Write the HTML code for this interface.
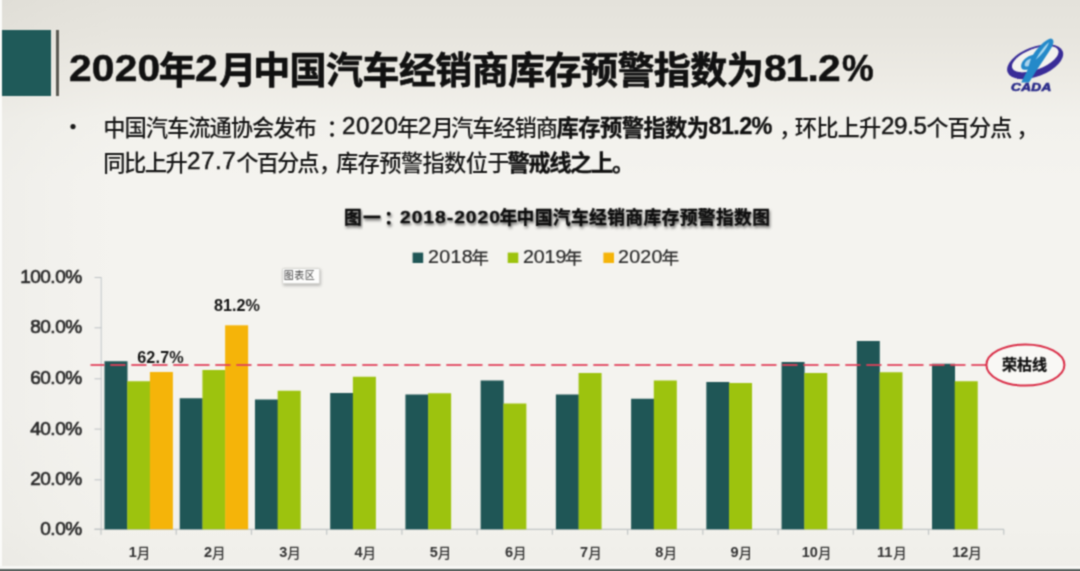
<!DOCTYPE html>
<html lang="zh-CN"><head><meta charset="utf-8"><title>2020年2月中国汽车经销商库存预警指数为81.2%</title>
<style>
html,body{margin:0;padding:0}
body{width:1080px;height:571px;overflow:hidden;position:relative;font-family:"Liberation Sans",sans-serif;background:#efede8}
#stage{position:absolute;left:0;top:0;width:1080px;height:571px;overflow:hidden;filter:url(#pgblur);
 background:
  linear-gradient(90deg, rgba(110,110,100,.035) 0%, rgba(110,110,100,.015) 5%, rgba(110,110,100,0) 11%),
  linear-gradient(180deg, #e4e2db 0%, #e7e5de 6%, #edebe5 14%, #f2f1ec 21%, #f4f3ef 32%, #f4f3ef 72%, #f2f1ec 92%, #efeee9 100%);
 background-color:#ebe9e3}
.t{position:absolute;white-space:nowrap;line-height:1;margin:0;padding:0}
svg{position:absolute;left:0;top:0;overflow:visible}
.abs{position:absolute}
svg text{font-family:"Liberation Sans","Noto Sans CJK SC",sans-serif}
</style></head>
<body>
<svg width="0" height="0" style="position:absolute" aria-hidden="true"><defs><filter id="pgblur" x="0" y="0" width="100%" height="100%" color-interpolation-filters="sRGB"><feConvolveMatrix order="3" kernelMatrix="0.0509 0.1238 0.0509 0.1238 0.3012 0.1238 0.0509 0.1238 0.0509" edgeMode="duplicate" preserveAlpha="true"/></filter></defs></svg>
<div id="stage">
<div class="abs" style="left:0;top:0;width:2px;height:571px;background:#fbfbf9"></div>
<div class="abs" style="left:2px;top:29.5px;width:49px;height:66.5px;background:#1f5a59"></div>
<div class="abs" style="left:56px;top:29.5px;width:3.4px;height:66px;background:#5b5a53"></div>
<div class="abs" style="left:0;top:566.3px;width:1080px;height:3px;background:#f7f7f4"></div>
<div class="abs" style="left:0;top:569.2px;width:1080px;height:3px;background:#5a625f"></div>
<div class="abs" style="left:281.7px;top:267.5px;width:38.6px;height:16px;box-sizing:border-box;background:#fdfdfc;border:1px solid #d6d6d2;border-radius:1.5px;box-shadow:1px 1.5px 3px rgba(0,0,0,.22)"></div>
<svg width="1080" height="571" viewBox="0 0 1080 571">
<path d="M101.2 277.5V529.3" stroke="#c6cbce" stroke-width="1.1" fill="none"/><path d="M94.5 529.20H101.5" stroke="#c2c6c8" stroke-width="1.1"/><path d="M94.5 479.80H101.5" stroke="#c2c6c8" stroke-width="1.1"/><path d="M94.5 429.10H101.5" stroke="#c2c6c8" stroke-width="1.1"/><path d="M94.5 378.80H101.5" stroke="#c2c6c8" stroke-width="1.1"/><path d="M94.5 327.80H101.5" stroke="#c2c6c8" stroke-width="1.1"/><path d="M94.5 277.50H101.5" stroke="#c2c6c8" stroke-width="1.1"/><path d="M94.5 529.3H1004" stroke="#c2c6c6" stroke-width="1.3" fill="none"/><path d="M101.00 529.3v5.5" stroke="#c2c6c6" stroke-width="1.2"/><path d="M176.23 529.3v5.5" stroke="#c2c6c6" stroke-width="1.2"/><path d="M251.46 529.3v5.5" stroke="#c2c6c6" stroke-width="1.2"/><path d="M326.69 529.3v5.5" stroke="#c2c6c6" stroke-width="1.2"/><path d="M401.92 529.3v5.5" stroke="#c2c6c6" stroke-width="1.2"/><path d="M477.15 529.3v5.5" stroke="#c2c6c6" stroke-width="1.2"/><path d="M552.38 529.3v5.5" stroke="#c2c6c6" stroke-width="1.2"/><path d="M627.61 529.3v5.5" stroke="#c2c6c6" stroke-width="1.2"/><path d="M702.84 529.3v5.5" stroke="#c2c6c6" stroke-width="1.2"/><path d="M778.07 529.3v5.5" stroke="#c2c6c6" stroke-width="1.2"/><path d="M853.30 529.3v5.5" stroke="#c2c6c6" stroke-width="1.2"/><path d="M928.53 529.3v5.5" stroke="#c2c6c6" stroke-width="1.2"/><path d="M1003.76 529.3v5.5" stroke="#c2c6c6" stroke-width="1.2"/><rect x="104.50" y="361.25" width="23.00" height="168.05" fill="#1f5656"/><rect x="127.20" y="381.25" width="23.00" height="148.05" fill="#9dc30e"/><rect x="149.90" y="372.00" width="23.00" height="157.30" fill="#f5b409"/><rect x="179.73" y="398.25" width="23.00" height="131.05" fill="#1f5656"/><rect x="202.43" y="370.00" width="23.00" height="159.30" fill="#9dc30e"/><rect x="225.13" y="325.30" width="23.00" height="204.00" fill="#f5b409"/><rect x="254.96" y="399.50" width="23.00" height="129.80" fill="#1f5656"/><rect x="277.66" y="390.75" width="23.00" height="138.55" fill="#9dc30e"/><rect x="330.19" y="393.00" width="23.00" height="136.30" fill="#1f5656"/><rect x="352.89" y="376.75" width="23.00" height="152.55" fill="#9dc30e"/><rect x="405.42" y="394.50" width="23.00" height="134.80" fill="#1f5656"/><rect x="428.12" y="393.25" width="23.00" height="136.05" fill="#9dc30e"/><rect x="480.65" y="380.50" width="23.00" height="148.80" fill="#1f5656"/><rect x="503.35" y="403.50" width="23.00" height="125.80" fill="#9dc30e"/><rect x="555.88" y="394.50" width="23.00" height="134.80" fill="#1f5656"/><rect x="578.58" y="373.00" width="23.00" height="156.30" fill="#9dc30e"/><rect x="631.11" y="398.75" width="23.00" height="130.55" fill="#1f5656"/><rect x="653.81" y="380.50" width="23.00" height="148.80" fill="#9dc30e"/><rect x="706.34" y="382.00" width="23.00" height="147.30" fill="#1f5656"/><rect x="729.04" y="383.00" width="23.00" height="146.30" fill="#9dc30e"/><rect x="781.57" y="362.00" width="23.00" height="167.30" fill="#1f5656"/><rect x="804.27" y="373.00" width="23.00" height="156.30" fill="#9dc30e"/><rect x="856.80" y="341.00" width="23.00" height="188.30" fill="#1f5656"/><rect x="879.50" y="372.25" width="23.00" height="157.05" fill="#9dc30e"/><rect x="932.03" y="363.75" width="23.00" height="165.55" fill="#1f5656"/><rect x="954.73" y="381.25" width="23.00" height="148.05" fill="#9dc30e"/><path d="M90.5 365H986" stroke="#e0405a" stroke-width="1.9" stroke-dasharray="15.2 5.8" stroke-dashoffset="1.2" fill="none" opacity=".88"/><ellipse cx="1025.4" cy="365" rx="39" ry="20.6" fill="#f9f8f5" stroke="#d92c46" stroke-width="2"/><rect x="412.6" y="252.6" width="10.6" height="10.4" fill="#1f5656"/><rect x="507.7" y="252.6" width="10.6" height="10.4" fill="#9dc30e"/><rect x="603.4" y="252.6" width="10.6" height="10.4" fill="#f5b409"/><circle cx="73" cy="126.6" r="2.6" fill="#1a1a1a"/>

<g>
  <g transform="translate(1034.8 60.8) rotate(-21)">
    <path fill="#392c98" fill-rule="evenodd" d="M-29.5 1A29.5 14.8 0 1 0 29.5 1A29.5 14.8 0 1 0 -29.5 1ZM-23.5 -1.4A24.5 10.3 0 1 1 25.5 -1.4A24.5 10.3 0 1 1 -23.5 -1.4Z"/>
    <ellipse cx="1" cy="-1.4" rx="24.5" ry="10.3" fill="#f8f8f6" opacity=".6"/>
  </g>
  <path fill="#2489c9" d="M1050.5 38.6C1053.8 38.6 1054.4 42.4 1052 46.8C1048 54 1041.5 62.5 1036.5 70.5L1029 82.6L1021.2 82.6L1027.8 69.4C1023.6 70.8 1020.6 69 1021.2 65.2C1021.9 60.6 1027 56.2 1033 54.8C1037.4 48.2 1044 40.6 1050.5 38.6Z"/>
  <path fill="#bfe6f6" d="M1049 42.2C1044.4 45.8 1039.4 52.6 1035.6 59.8C1041.2 55.6 1047.4 47.6 1049 42.2Z" opacity=".85"/>
  <path fill="#d8eef8" d="M1031 58.6C1027.6 59.4 1024.8 62 1024.6 64.8C1024.4 66.6 1026.2 67 1028.6 66.2Z" opacity=".75"/>
</g>
</svg>
<svg width="1080" height="571" viewBox="0 0 1080 571">
<defs><filter id="sh" x="-5%" y="-40%" width="110%" height="200%"><feDropShadow dx="1" dy="2" stdDeviation="1.6" flood-color="#000" flood-opacity=".6"/></filter></defs>
<g fill="#111" stroke="#111" stroke-width="0.7" stroke-linejoin="round" font-size="37" font-weight="700">
<text x="158.78" y="84.30">年</text>
<text x="219.19" y="84.30">月</text>
<text x="253.21" y="84.30" letter-spacing="-0.58">中国汽车经销商库存预警指数为</text>
</g>
<g fill="#161616" font-size="22.3" font-weight="500">
<text x="103.13" y="135.80" letter-spacing="-1.04">中国汽车流通协会发布</text>
<text x="326.60" y="135.80">：</text>
<text x="396.92" y="135.80">年</text>
<text x="431.62" y="135.80">月</text>
<text x="450.99" y="135.80" letter-spacing="-1.1">汽车经销商</text>
<text x="778.92" y="135.80">，</text>
<text x="794.81" y="135.80" letter-spacing="-0.9">环比上升</text>
<text x="926.33" y="135.80" letter-spacing="-1.1">个百分点</text>
<text x="1016.32" y="135.80">，</text>
<text x="103.17" y="170.80" letter-spacing="-1.5">同比上升</text>
<text x="236.33" y="170.80" letter-spacing="-2">个百分点</text>
<text x="318.72" y="170.80">，</text>
<text x="336.00" y="170.80" letter-spacing="-0.68">库存预警指数位于</text>
</g>
<g fill="#111" stroke="#111" stroke-width="0.35" stroke-linejoin="round" font-size="22.3" font-weight="700">
<text x="556.53" y="135.80" letter-spacing="-0.58">库存预警指数为</text>
<text x="507.41" y="170.80" letter-spacing="-1.4">警戒线之上</text>
<text x="611.89" y="170.80">。</text>
</g>
<g fill="#111" stroke="#111" stroke-width="0.35" stroke-linejoin="round" font-size="17.8" font-weight="700">
<text x="344.08" y="224.00" filter="url(#sh)">图</text>
<text x="363.10" y="224.00" filter="url(#sh)">一</text>
<text x="384.24" y="224.00" filter="url(#sh)">：</text>
<text x="499.52" y="224.00" filter="url(#sh)">年</text>
<text x="516.59" y="224.00" letter-spacing="0.34" filter="url(#sh)">中国汽车经销商库存预警指数图</text>
</g>
<g fill="#2a2a2a" stroke="#2a2a2a" stroke-width="0.25" stroke-linejoin="round" font-size="17.6">
<text x="471.36" y="263.90">年</text>
<text x="564.76" y="263.90">年</text>
<text x="661.46" y="263.90">年</text>
</g>
<g fill="#333" font-size="13.5" font-weight="500">
<text x="136.80" y="557.60">月</text>
<text x="212.03" y="557.60">月</text>
<text x="287.26" y="557.60">月</text>
<text x="362.49" y="557.60">月</text>
<text x="437.72" y="557.60">月</text>
<text x="512.95" y="557.60">月</text>
<text x="588.18" y="557.60">月</text>
<text x="663.41" y="557.60">月</text>
<text x="738.64" y="557.60">月</text>
<text x="817.90" y="557.60">月</text>
<text x="893.13" y="557.60">月</text>
<text x="968.36" y="557.60">月</text>
</g>
<text x="283.76" y="279.30" font-size="10" fill="#444" letter-spacing="0.5">图表区</text>
<text x="1001.91" y="370.40" font-size="15" font-weight="700" fill="#111" stroke="#111" stroke-width="0.3" stroke-linejoin="round">荣枯线</text>
</svg>
<span class="t" style="left:68.59px;top:51.33px;font-size:36px;color:#111;font-weight:700;letter-spacing:0.17px;transform:scaleX(1.1300);transform-origin:0 0;-webkit-text-stroke:.5px #111;">2020</span><span class="t" style="left:194.99px;top:51.33px;font-size:36px;color:#111;font-weight:700;transform:scaleX(1.1300);transform-origin:0 0;-webkit-text-stroke:.5px #111;">2</span><span class="t" style="left:763.91px;top:51.33px;font-size:36px;color:#111;font-weight:700;letter-spacing:-0.75px;transform:scaleX(1.1300);transform-origin:0 0;-webkit-text-stroke:.5px #111;">81.2</span><span class="t" style="left:841.71px;top:51.33px;font-size:36px;color:#111;font-weight:700;transform:scaleX(0.9900);transform-origin:0 0;-webkit-text-stroke:.5px #111;">%</span><span class="t" style="left:341.58px;top:115.11px;font-size:23.5px;color:#161616;letter-spacing:0.59px;transform:scaleX(1.0300);transform-origin:0 0;-webkit-text-stroke:.5px #161616;">2020</span><span class="t" style="left:417.78px;top:115.11px;font-size:23.5px;color:#161616;transform:scaleX(1.0300);transform-origin:0 0;-webkit-text-stroke:.5px #161616;">2</span><span class="t" style="left:708.55px;top:115.11px;font-size:23.5px;color:#111;font-weight:700;letter-spacing:-0.69px;-webkit-text-stroke:.3px #111;">81.2%</span><span class="t" style="left:880.98px;top:115.11px;font-size:23.5px;color:#161616;letter-spacing:-0.38px;transform:scaleX(1.0300);transform-origin:0 0;-webkit-text-stroke:.5px #161616;">29.5</span><span class="t" style="left:186.58px;top:150.11px;font-size:23.5px;color:#161616;letter-spacing:0.53px;transform:scaleX(1.0300);transform-origin:0 0;-webkit-text-stroke:.5px #161616;">27.7</span><span class="t" style="left:399.73px;top:209.76px;font-size:16px;color:#111;font-weight:700;letter-spacing:0.84px;transform:scaleX(1.2000);transform-origin:0 0;text-shadow:1px 2px 2.5px rgba(0,0,0,.55);-webkit-text-stroke:.3px #111;">2018-2020</span><span class="t" style="left:427.76px;top:248.06px;font-size:18px;color:#2a2a2a;letter-spacing:0.32px;transform:scaleX(1.0900);transform-origin:0 0;-webkit-text-stroke:.2px #2a2a2a;">2018</span><span class="t" style="left:522.61px;top:248.06px;font-size:18px;color:#2a2a2a;letter-spacing:-0.10px;transform:scaleX(1.0900);transform-origin:0 0;-webkit-text-stroke:.2px #2a2a2a;">2019</span><span class="t" style="left:618.01px;top:248.06px;font-size:18px;color:#2a2a2a;letter-spacing:0.22px;transform:scaleX(1.0900);transform-origin:0 0;-webkit-text-stroke:.2px #2a2a2a;">2020</span><span class="t" style="left:40.29px;top:518.82px;font-size:19px;color:#2b2b2b;letter-spacing:-0.50px;-webkit-text-stroke:.7px #2b2b2b;">0.0%</span><span class="t" style="left:30.23px;top:469.42px;font-size:19px;color:#2b2b2b;letter-spacing:-0.50px;-webkit-text-stroke:.7px #2b2b2b;">20.0%</span><span class="t" style="left:30.23px;top:418.72px;font-size:19px;color:#2b2b2b;letter-spacing:-0.50px;-webkit-text-stroke:.7px #2b2b2b;">40.0%</span><span class="t" style="left:30.23px;top:368.42px;font-size:19px;color:#2b2b2b;letter-spacing:-0.50px;-webkit-text-stroke:.7px #2b2b2b;">60.0%</span><span class="t" style="left:30.23px;top:317.42px;font-size:19px;color:#2b2b2b;letter-spacing:-0.50px;-webkit-text-stroke:.7px #2b2b2b;">80.0%</span><span class="t" style="left:20.16px;top:267.12px;font-size:19px;color:#2b2b2b;letter-spacing:-0.50px;-webkit-text-stroke:.7px #2b2b2b;">100.0%</span><span class="t" style="left:128.73px;top:545.33px;font-size:14.5px;color:#333;font-weight:700;">1</span><span class="t" style="left:203.96px;top:545.33px;font-size:14.5px;color:#333;font-weight:700;">2</span><span class="t" style="left:279.19px;top:545.33px;font-size:14.5px;color:#333;font-weight:700;">3</span><span class="t" style="left:354.42px;top:545.33px;font-size:14.5px;color:#333;font-weight:700;">4</span><span class="t" style="left:429.65px;top:545.33px;font-size:14.5px;color:#333;font-weight:700;">5</span><span class="t" style="left:504.88px;top:545.33px;font-size:14.5px;color:#333;font-weight:700;">6</span><span class="t" style="left:580.11px;top:545.33px;font-size:14.5px;color:#333;font-weight:700;">7</span><span class="t" style="left:655.34px;top:545.33px;font-size:14.5px;color:#333;font-weight:700;">8</span><span class="t" style="left:730.57px;top:545.33px;font-size:14.5px;color:#333;font-weight:700;">9</span><span class="t" style="left:801.77px;top:545.33px;font-size:14.5px;color:#333;font-weight:700;">10</span><span class="t" style="left:877.00px;top:545.33px;font-size:14.5px;color:#333;font-weight:700;">11</span><span class="t" style="left:952.23px;top:545.33px;font-size:14.5px;color:#333;font-weight:700;">12</span><span class="t" style="left:213.89px;top:297.19px;font-size:16.2px;color:#151515;font-weight:700;letter-spacing:0.05px;">81.2%</span><span class="t" style="left:137.21px;top:348.89px;font-size:16.2px;color:#151515;font-weight:700;letter-spacing:0.15px;">62.7%</span>
<span class="t" style="left:1011.2px;top:83.4px;font-size:10.2px;font-weight:700;font-style:italic;color:#2a2b8a;letter-spacing:0.3px;transform:scaleX(1.33);transform-origin:0 0;-webkit-text-stroke:.6px #2a2b8a">CADA</span>
</div></body></html>
